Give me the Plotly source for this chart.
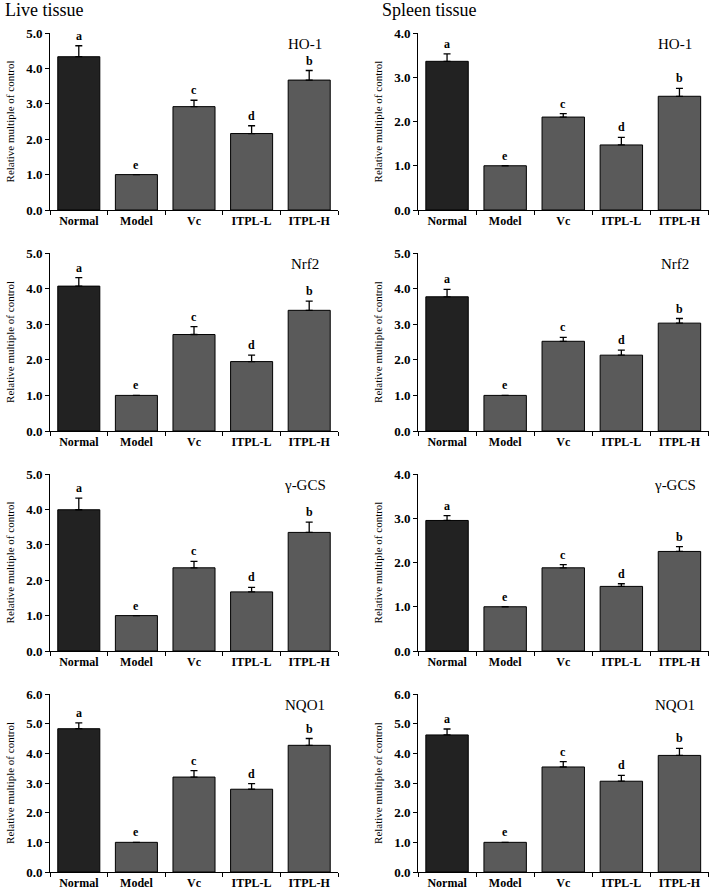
import plotly.graph_objects as go

categories = ["Normal", "Model", "Vc", "ITPL-L", "ITPL-H"]
letters = ["a", "e", "c", "d", "b"]
genes = ["HO-1", "Nrf2", "γ-GCS", "NQO1"]

live_ho1 = [4.33, 1.00, 2.92, 2.16, 3.67]
live_ho1_err = [0.31, 0.0, 0.18, 0.22, 0.27]
live_nrf2 = [4.07, 1.00, 2.71, 1.95, 3.39]
live_nrf2_err = [0.24, 0.0, 0.22, 0.18, 0.26]
live_gcs = [3.99, 1.00, 2.35, 1.67, 3.35]
live_gcs_err = [0.33, 0.0, 0.18, 0.13, 0.29]
live_nqo1 = [4.83, 1.00, 3.20, 2.79, 4.27]
live_nqo1_err = [0.20, 0.0, 0.22, 0.19, 0.23]

spleen_ho1 = [3.36, 1.00, 2.10, 1.47, 2.57]
spleen_ho1_err = [0.17, 0.0, 0.08, 0.17, 0.18]
spleen_nrf2 = [3.77, 1.00, 2.52, 2.13, 3.03]
spleen_nrf2_err = [0.21, 0.0, 0.11, 0.14, 0.13]
spleen_gcs = [2.95, 1.00, 1.88, 1.46, 2.25]
spleen_gcs_err = [0.11, 0.0, 0.07, 0.06, 0.11]
spleen_nqo1 = [4.62, 1.00, 3.54, 3.06, 3.93]
spleen_nqo1_err = [0.20, 0.0, 0.18, 0.20, 0.24]

live_max = [5.0, 5.0, 5.0, 6.0]
spleen_max = [4.0, 5.0, 4.0, 6.0]
tissue_titles = ["Live tissue", "Spleen tissue"]

live = [(live_ho1, live_ho1_err), (live_nrf2, live_nrf2_err), (live_gcs, live_gcs_err), (live_nqo1, live_nqo1_err)]
spleen = [(spleen_ho1, spleen_ho1_err), (spleen_nrf2, spleen_nrf2_err), (spleen_gcs, spleen_gcs_err), (spleen_nqo1, spleen_nqo1_err)]

W, H = 709, 892
FONT = "Liberation Serif, Times New Roman, serif"

x_dom_px = [(50, 338), (418, 708.5)]
y_dom_px = [(33, 210), (253, 431), (474, 651), (694, 872)]

colors = ["#222222", "#5a5a5a", "#5a5a5a", "#5a5a5a", "#5a5a5a"]

fig = go.Figure()
layout = {}
annotations = []
idx = 0
for r in range(4):
    for c in range(2):
        idx += 1
        vals, errs = (live if c == 0 else spleen)[r]
        ymax = (live_max if c == 0 else spleen_max)[r]
        xa = "x" if idx == 1 else f"x{idx}"
        ya = "y" if idx == 1 else f"y{idx}"
        fig.add_trace(go.Bar(
            x=categories, y=vals, xaxis=xa, yaxis=ya,
            marker=dict(color=colors, line=dict(color="#000000", width=1)),
            width=0.73,
            error_y=dict(type="data", symmetric=False, array=errs,
                         arrayminus=[0] * len(errs), color="#000000",
                         thickness=1.3, width=3.5),
            showlegend=False, hoverinfo="skip"))
        x0, x1 = x_dom_px[c]
        y0, y1 = y_dom_px[r]
        xkey = "xaxis" if idx == 1 else f"xaxis{idx}"
        ykey = "yaxis" if idx == 1 else f"yaxis{idx}"
        layout[xkey] = dict(
            domain=[x0 / W, x1 / W], anchor=ya, type="category", automargin=False,
            showline=True, linecolor="#000000", linewidth=1,
            ticks="outside", tickson="boundaries", ticklen=4, tickcolor="#000000",
            tickfont=dict(family=FONT, size=12, color="#000000", weight="bold"),
            showgrid=False, zeroline=False, fixedrange=True)
        layout[ykey] = dict(
            domain=[1 - y1 / H, 1 - y0 / H], anchor=xa, automargin=False,
            range=[0, ymax], dtick=1.0, tickformat=".1f",
            showline=True, linecolor="#000000", linewidth=1,
            ticks="outside", ticklen=4, tickcolor="#000000",
            tickfont=dict(family=FONT, size=13, color="#000000", weight="bold"),
            title=dict(text="Relative multiple of control", standoff=9,
                       font=dict(family=FONT, size=11, color="#000000")),
            showgrid=False, zeroline=False, fixedrange=True)
        for i, cat in enumerate(categories):
            annotations.append(dict(
                x=cat, y=vals[i] + errs[i], xref=xa, yref=ya,
                text=letters[i], showarrow=False, yanchor="bottom", yshift=1,
                font=dict(family=FONT, size=12, color="#000000", weight="bold")))
        annotations.append(dict(
            x=0.885, y=0.94, xref=f"{xa} domain", yref=f"{ya} domain",
            text=genes[r], showarrow=False, xanchor="center", yanchor="middle",
            font=dict(family=FONT, size=15, color="#000000")))

annotations.append(dict(x=3 / W, y=1, xref="paper", yref="paper", yshift=2,
                        text=tissue_titles[0], showarrow=False, xanchor="left", yanchor="top",
                        font=dict(family=FONT, size=18, color="#000000")))
annotations.append(dict(x=380 / W, y=1, xref="paper", yref="paper", yshift=2,
                        text=tissue_titles[1], showarrow=False, xanchor="left", yanchor="top",
                        font=dict(family=FONT, size=18, color="#000000")))

fig.update_layout(
    width=W, height=H, margin=dict(l=0, r=0, t=0, b=0, autoexpand=False),
    paper_bgcolor="#ffffff", plot_bgcolor="#ffffff",
    annotations=annotations, bargap=0.27, **layout)

fig.write_html(
    "out.html",
    config={"displayModeBar": False},
    post_script="document.body.style.margin='0';document.body.style.overflow='hidden';",
)
